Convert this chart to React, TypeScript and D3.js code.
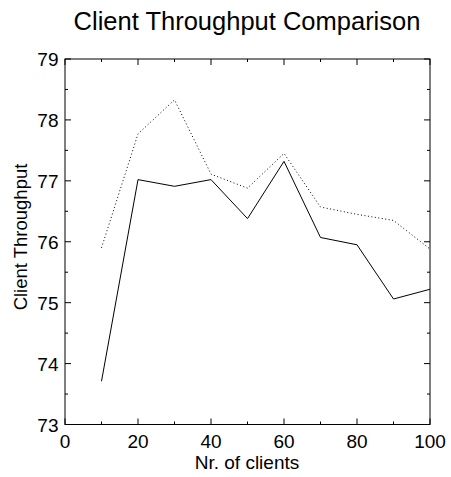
import React from 'react';
import * as d3 from 'd3';

const clients = [10, 20, 30, 40, 50, 60, 70, 80, 90, 100];
const solidSeries = [73.71, 77.02, 76.91, 77.02, 76.38, 77.32, 76.07, 75.95, 75.06, 75.22];
const dottedSeries = [75.9, 77.77, 78.33, 77.11, 76.88, 77.45, 76.57, 76.45, 76.35, 75.88];
const xMajorTicks = [0, 20, 40, 60, 80, 100];
const xMinorTicks = [10, 30, 50, 70, 90];
const yMajorTicks = [73, 74, 75, 76, 77, 78, 79];
const yMinorTicks = [73.5, 74.5, 75.5, 76.5, 77.5, 78.5];

const width = 451;
const height = 477;
const font = "'Liberation Sans', Arial, Helvetica, sans-serif";

const App: React.FC = () => {
  const svgRef = React.useRef<SVGSVGElement>(null);

  React.useEffect(() => {
    if (!svgRef.current) return;
    d3.select(svgRef.current).selectAll("*").remove();
    const svg = d3.select(svgRef.current);

    const left = 65, right = 430, top = 59, bottom = 424.5;

    const x = d3.scaleLinear().domain([0, 100]).range([left, right]);
    const y = d3.scaleLinear().domain([73, 79]).range([bottom, top]);

    // frame
    svg.append("rect")
      .attr("x", left)
      .attr("y", top)
      .attr("width", right - left)
      .attr("height", bottom - top)
      .attr("fill", "none")
      .attr("stroke", "#000")
      .attr("stroke-width", 1);

    const major = 6, minor = 3;

    // x ticks, bottom and top, pointing inward
    const xTicks = [
      ...xMajorTicks.map(v => ({ v, len: major })),
      ...xMinorTicks.map(v => ({ v, len: minor }))
    ];
    xTicks.forEach(t => {
      svg.append("line")
        .attr("x1", x(t.v)).attr("x2", x(t.v))
        .attr("y1", bottom).attr("y2", bottom - t.len)
        .attr("stroke", "#000");
      svg.append("line")
        .attr("x1", x(t.v)).attr("x2", x(t.v))
        .attr("y1", top).attr("y2", top + t.len)
        .attr("stroke", "#000");
    });

    // y ticks, left and right
    const yTicks = [
      ...yMajorTicks.map(v => ({ v, len: major })),
      ...yMinorTicks.map(v => ({ v, len: minor }))
    ];
    yTicks.forEach(t => {
      svg.append("line")
        .attr("x1", left).attr("x2", left + t.len)
        .attr("y1", y(t.v)).attr("y2", y(t.v))
        .attr("stroke", "#000");
      svg.append("line")
        .attr("x1", right).attr("x2", right - t.len)
        .attr("y1", y(t.v)).attr("y2", y(t.v))
        .attr("stroke", "#000");
    });

    // tick labels
    svg.append("g")
      .selectAll("text")
      .data(xMajorTicks)
      .enter().append("text")
      .attr("x", d => x(d))
      .attr("y", bottom + 23.5)
      .attr("text-anchor", "middle")
      .attr("font-family", font)
      .attr("font-size", "19px")
      .attr("fill", "#000")
      .text(d => d);

    svg.append("g")
      .selectAll("text")
      .data(yMajorTicks)
      .enter().append("text")
      .attr("x", left - 6.5)
      .attr("y", d => y(d) + 7)
      .attr("text-anchor", "end")
      .attr("font-family", font)
      .attr("font-size", "19px")
      .attr("fill", "#000")
      .text(d => d);

    // lines
    const seriesLine = d3.line<number>()
      .x((_, i) => x(clients[i]))
      .y(d => y(d));

    svg.append("path")
      .datum(solidSeries)
      .attr("fill", "none")
      .attr("stroke", "#000")
      .attr("stroke-width", 1)
      .attr("d", seriesLine);

    svg.append("path")
      .datum(dottedSeries)
      .attr("fill", "none")
      .attr("stroke", "#000")
      .attr("stroke-width", 1)
      .attr("stroke-dasharray", "1,2.5")
      .attr("d", seriesLine);

    // title
    svg.append("text")
      .attr("x", 247)
      .attr("y", 30)
      .attr("text-anchor", "middle")
      .attr("font-family", font)
      .attr("font-size", "25.5px")
      .attr("fill", "#000")
      .text("Client Throughput Comparison");

    // x label
    svg.append("text")
      .attr("x", 247)
      .attr("y", 469)
      .attr("text-anchor", "middle")
      .attr("font-family", font)
      .attr("font-size", "19px")
      .attr("fill", "#000")
      .text("Nr. of clients");

    // y label
    svg.append("text")
      .attr("transform", `translate(26.5,237) rotate(-90)`)
      .attr("text-anchor", "middle")
      .attr("font-family", font)
      .attr("font-size", "18.5px")
      .attr("fill", "#000")
      .text("Client Throughput");
  }, []);

  return (
    <svg
      ref={svgRef}
      width={width}
      height={height}
      style={{ position: "absolute", left: 0, top: 0, background: "#fff" }}
    />
  );
};

export default App;
